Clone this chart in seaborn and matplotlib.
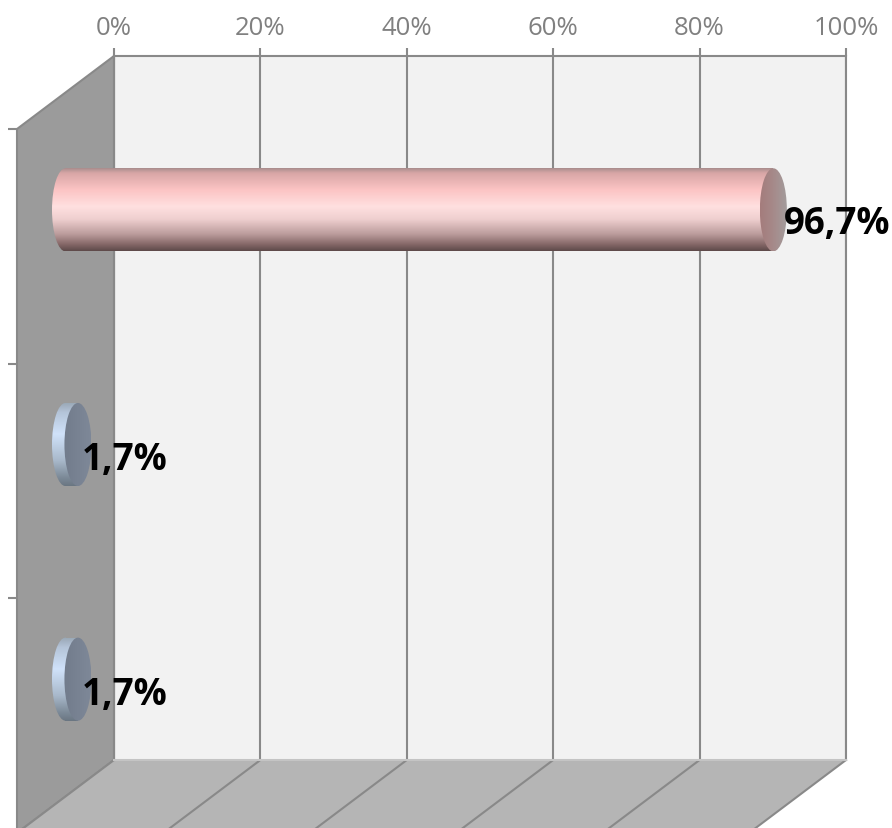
import matplotlib
matplotlib.use('Agg')
import matplotlib.pyplot as plt
import numpy as np
import pandas
import seaborn as sns
from matplotlib.colors import LinearSegmentedColormap
from matplotlib.patches import Ellipse, Polygon

CATEGORIES = ['Cat 1', 'Cat 2', 'Cat 3']
VALUES = [96.7, 1.7, 1.7]
TICKS = [0, 20, 40, 60, 80, 100]
TICK_LABELS = ['0%', '20%', '40%', '60%', '80%', '100%']

W, H = 892, 829
# back wall in pixels, and the depth of the fake 3d box
WALL_L, WALL_R, WALL_T, WALL_B = 114, 846, 57, 761
DX, DY = 97, 73
GRID = '#898989'

PINK_SIDE = [(0, '#a08888'), (0.07, '#d8a6a6'), (0.27, '#fcc4c4'), (0.47, '#ffe0e0'),
    (0.62, '#efcfcf'), (0.8, '#bb9c9c'), (0.92, '#866868'), (1, '#5e4a4a')]
PINK_CAP = [(0, '#a47c7c'), (0.5, '#a68a8a'), (1, '#a39c9c')]
BLUE_SIDE = [(0, '#98a6b4'), (0.12, '#b4c4d8'), (0.38, '#d0e2fa'), (0.7, '#a8b8ca'),
    (0.9, '#7c8a98'), (1, '#6a7682')]
BLUE_CAP = [(0, '#727c8c'), (1, '#7e8898')]


def px_axes(fig, left, right, top, bottom):
    return fig.add_axes([left / W, 1 - bottom / H, (right - left) / W, (bottom - top) / H])


def draw_box(fig):
    ax = px_axes(fig, WALL_L, WALL_R, WALL_T, WALL_B)
    ax.set_xlim(0, 100)
    ax.set_ylim(0, 1)
    ax.set_facecolor('#f2f2f2')
    ax.set_axisbelow(True)
    ax.xaxis.tick_top()
    ax.set_xticks(TICKS, TICK_LABELS)
    ax.set_yticks([])
    ax.tick_params(axis='x', length=6, width=1.5, color=GRID, labelcolor='#808080',
        labelsize=18.5, pad=5.5)
    ax.grid(axis='x', color=GRID, lw=1.5)
    for s in ['top', 'left', 'right']:
        ax.spines[s].set_color(GRID)
        ax.spines[s].set_linewidth(1.5)
    ax.spines['bottom'].set_color('#c4c4c4')
    ax.spines['bottom'].set_linewidth(1.5)

    # side wall and floor, depth given as axes fractions
    dx = DX / (WALL_R - WALL_L) * 100
    dy = DY / (WALL_B - WALL_T)
    ax.add_patch(Polygon([(0, 1), (-dx, 1 - dy), (-dx, -dy), (0, 0)], fc='#9b9b9b',
        ec=GRID, lw=1.5, clip_on=False, zorder=1))
    ax.add_patch(Polygon([(0, 0), (100, 0), (100 - dx, -dy), (-dx, -dy)], fc='#b5b5b5',
        ec='none', clip_on=False, zorder=1))
    for t in TICKS:
        ax.plot([t, t - dx], [0, -dy], color=GRID, lw=1.5, clip_on=False, zorder=2)
    return ax


def draw_front_ticks(fig):
    ax = px_axes(fig, WALL_L - DX, WALL_R - DX, WALL_T + DY, WALL_B + DY)
    ax.patch.set_visible(False)
    ax.set_ylim(len(CATEGORIES) - 0.5, -0.5)
    ax.set_yticks(np.arange(len(CATEGORIES) + 1) - 0.5, [''] * (len(CATEGORIES) + 1))
    ax.set_xticks([])
    ax.tick_params(axis='y', length=6.5, width=1.5, color=GRID)
    for s in ax.spines.values():
        s.set_visible(False)
    return ax


def fill_gradient(ax, stops, x0, x1, y0, y1, clip, horizontal=False):
    cmap = LinearSegmentedColormap.from_list('g', stops)
    grad = np.linspace(0, 1, 256)
    grad = grad.reshape(1, -1) if horizontal else grad.reshape(-1, 1)
    im = ax.imshow(grad, cmap=cmap, extent=(x0, x1, y1, y0), aspect='auto',
        interpolation='bilinear', origin='upper', zorder=3)
    im.set_clip_path(clip)


def draw_bars(fig, plot_df):
    # full figure axes, scaled so 0-100 sits half way down the depth of the box
    ax = fig.add_axes([0, 0, 1, 1])
    ax.patch.set_visible(False)
    sns.barplot(x='value', y='category', data=plot_df, order=CATEGORIES, orient='h',
        color='#f4c4c4', width=0.354, lw=0, ax=ax)
    x_unit = (WALL_R - WALL_L) / 100
    y_unit = (WALL_B - WALL_T) / len(CATEGORIES)
    x_zero = WALL_L - DX / 2
    y_zero = WALL_T + DY / 2 + y_unit / 2
    xlim = (-x_zero / x_unit, (W - x_zero) / x_unit)
    ylim = ((H - y_zero) / y_unit, -y_zero / y_unit)
    cap_w = 27 / x_unit

    for i, p in enumerate(list(ax.patches)):
        side, cap = (PINK_SIDE, PINK_CAP) if i == 0 else (BLUE_SIDE, BLUE_CAP)
        v = p.get_width()
        y0, h = p.get_y(), p.get_height()
        yc = y0 + h / 2
        left = Ellipse((0, yc), cap_w, h, fc='none', ec='none')
        end = Ellipse((v, yc), cap_w, h, fc='none', ec='none')
        ax.add_patch(left)
        ax.add_patch(end)
        p.set_alpha(0)
        fill_gradient(ax, side, 0, v, y0, y0 + h, p)
        fill_gradient(ax, side, -cap_w / 2, 0, y0, y0 + h, left)
        fill_gradient(ax, cap, v - cap_w / 2, v + cap_w / 2, y0, y0 + h, end, horizontal=True)

        s = f'{v:.1f}%'.replace('.', ',')
        off_x, off_y = (11, 13) if i == 0 else (4, 15)
        ax.annotate(s, (v, yc), xytext=(off_x * 0.72, -off_y * 0.72), textcoords='offset points',
            ha='left', va='center', fontsize=26.5, fontweight='bold', color='black',
            zorder=5, annotation_clip=False)

    ax.set_xlim(xlim)
    ax.set_ylim(ylim)
    ax.axis('off')
    return ax


def main():
    plt.rcParams['font.family'] = ['Open Sans', 'DejaVu Sans']
    plot_df = pandas.DataFrame({'category': CATEGORIES, 'value': VALUES})

    fig = plt.figure(figsize=(W / 100, H / 100), dpi=100)
    draw_box(fig)
    draw_front_ticks(fig)
    draw_bars(fig, plot_df)
    fig.savefig('out.png', dpi=100)


if __name__ == '__main__':
    main()
